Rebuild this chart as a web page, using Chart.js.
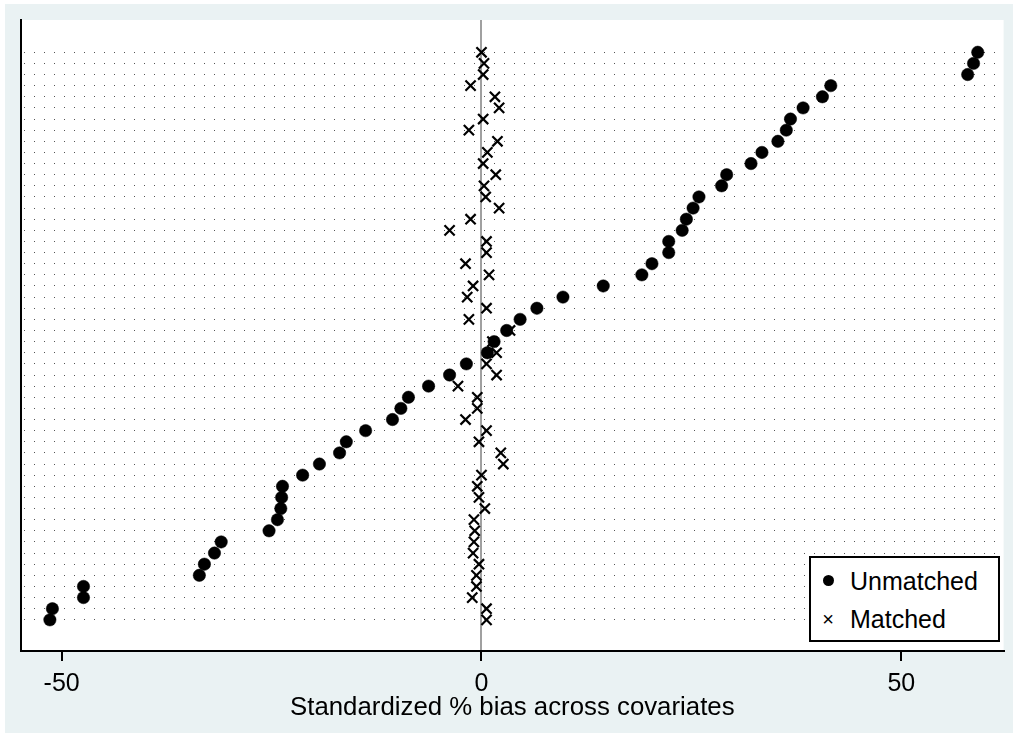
<!DOCTYPE html>
<html>
<head>
<meta charset="utf-8">
<script src="https://cdn.jsdelivr.net/npm/chart.js@4.4.1/dist/chart.umd.min.js"></script>
<style>
  html, body { margin: 0; padding: 0; background: #ffffff; overflow: hidden; }
  canvas { display: block; }
  #bg { position: absolute; left: 5px; top: 4px; width: 1008px; height: 729px; background: #eaf2f3; }
  #wrap { position: absolute; left: 0; top: 0; width: 1013px; height: 733px; }
  #legend {
    position: absolute; left: 809px; top: 556px; width: 191px; height: 86px;
    box-sizing: border-box; border: 2px solid #000; background: #fff;
    font-family: "Liberation Sans", Arial, sans-serif; font-size: 25px; color: #000;
  }
  .item { position: absolute; left: 0; height: 30px; line-height: 30px; }
  .sym { position: absolute; left: 10px; top: 0; width: 14px; height: 30px; }
  .dot { position: absolute; left: 2px; top: 9px; width: 11px; height: 11px; border-radius: 50%; background: #000; }
  .x { position: absolute; left: 0; top: 0; width: 14px; text-align: center; font-size: 20px; line-height: 30px; }
  .lbl { position: absolute; left: 39px; top: 0; white-space: nowrap; }
</style>
</head>
<body>
<div id="bg"></div>
<div id="wrap"><canvas id="c" width="1013" height="733"></canvas></div>
<div id="legend">
  <div class="item" style="top:8px;"><div class="sym"><div class="dot"></div></div><span class="lbl">Unmatched</span></div>
  <div class="item" style="top:46px;"><div class="sym"><div class="x">&#215;</div></div><span class="lbl">Matched</span></div>
</div>
<script>
// Standardized % bias per covariate, listed from top row to bottom row
const seriesNames = ["Unmatched", "Matched"];
const unmatchedBias = [59.1, 58.6, 57.9, 41.6, 40.6, 38.3, 36.8, 36.3, 35.3, 33.4,
  32.1, 29.2, 28.6, 25.9, 25.2, 24.4, 23.9, 22.3, 22.3, 20.3,
  19.1, 14.5, 9.7, 6.6, 4.6, 3.0, 1.5, 0.7, -1.8, -3.8,
  -6.3, -8.7, -9.6, -10.6, -13.8, -16.1, -16.9, -19.3, -21.3, -23.7,
  -23.8, -23.9, -24.3, -25.3, -31.0, -31.8, -33.0, -33.6, -47.4, -47.4,
  -51.1, -51.4];
const matchedBias = [0.0, 0.3, 0.2, -1.3, 1.6, 2.1, 0.2, -1.5, 1.9, 0.7,
  0.2, 1.7, 0.3, 0.5, 2.1, -1.3, -3.8, 0.6, 0.6, -1.9,
  0.9, -1.0, -1.7, 0.6, -1.5, 3.4, 1.3, 1.8, 0.6, 1.8,
  -2.8, -0.5, -0.5, -1.9, 0.6, -0.3, 2.3, 2.6, 0.0, -0.5,
  -0.3, 0.4, -0.9, -0.8, -0.9, -1.0, -0.3, -0.6, -0.6, -1.1,
  0.6, 0.6];
const xTickValues = [-50, 0, 50];
const xAxisTitle = "Standardized % bias across covariates";

const nRows = unmatchedBias.length;
const rowPos = unmatchedBias.map((_, i) => nRows - i); // top row = nRows, bottom row = 1

const unmatchedPts = unmatchedBias.map((v, i) => ({x: v, y: rowPos[i]}));
const matchedPts = matchedBias.map((v, i) => ({x: v, y: rowPos[i]}));

const FONT = "'Liberation Sans', Arial, sans-serif";

const plotBg = {
  id: 'plotBg',
  beforeDraw(chart) {
    const {ctx, chartArea: a} = chart;
    ctx.save();
    ctx.fillStyle = '#ffffff';
    ctx.fillRect(a.left, a.top, a.right - a.left, a.bottom - a.top);
    ctx.restore();
  }
};

new Chart(document.getElementById('c'), {
  type: 'scatter',
  data: {
    datasets: [
      {
        label: seriesNames[0],
        data: unmatchedPts,
        pointStyle: 'circle',
        pointRadius: 6.2,
        pointBackgroundColor: '#000',
        pointBorderColor: '#000',
        pointBorderWidth: 0.5
      },
      {
        label: seriesNames[1],
        data: matchedPts,
        pointStyle: 'crossRot',
        pointRadius: 7.2,
        pointBorderColor: '#000',
        pointBorderWidth: 2.2
      }
    ]
  },
  options: {
    responsive: false,
    animation: false,
    devicePixelRatio: 1,
    layout: { padding: { left: 21, top: 20, right: 4, bottom: 0 } },
    plugins: { legend: { display: false }, tooltip: { enabled: false } },
    scales: {
      x: {
        type: 'linear',
        min: -54.84,
        max: 62.18,
        afterBuildTicks(scale) { scale.ticks = xTickValues.map(v => ({value: v})); },
        afterFit(scale) { scale.height = 82; scale.paddingLeft = 0; scale.paddingRight = 0; },
        grid: {
          color: ctx => (ctx.tick && ctx.tick.value === 0) ? '#a0a0a0' : 'rgba(0,0,0,0)',
          lineWidth: 2,
          drawTicks: true,
          tickLength: 10,
          tickColor: '#000',
          tickWidth: 2
        },
        border: { display: true, color: '#000', width: 2 },
        ticks: {
          color: '#000',
          font: { family: FONT, size: 25 },
          padding: 8,
          maxRotation: 0
        },
        title: {
          display: true,
          text: xAxisTitle,
          color: '#000',
          font: { family: FONT, size: 25.8 },
          padding: { top: 0, bottom: 10 }
        }
      },
      y: {
        type: 'linear',
        min: -1.8,
        max: 54.9,
        afterBuildTicks(scale) { scale.ticks = rowPos.map(v => ({value: v})); },
        afterFit(scale) { scale.width = 0; scale.paddingTop = 0; scale.paddingBottom = 0; },
        grid: { color: '#555', lineWidth: 1, drawTicks: false },
        border: { display: true, color: '#000', width: 2, dash: [1, 9], dashOffset: 8 },
        ticks: { display: false }
      }
    }
  },
  plugins: [plotBg]
});
</script>
</body>
</html>
